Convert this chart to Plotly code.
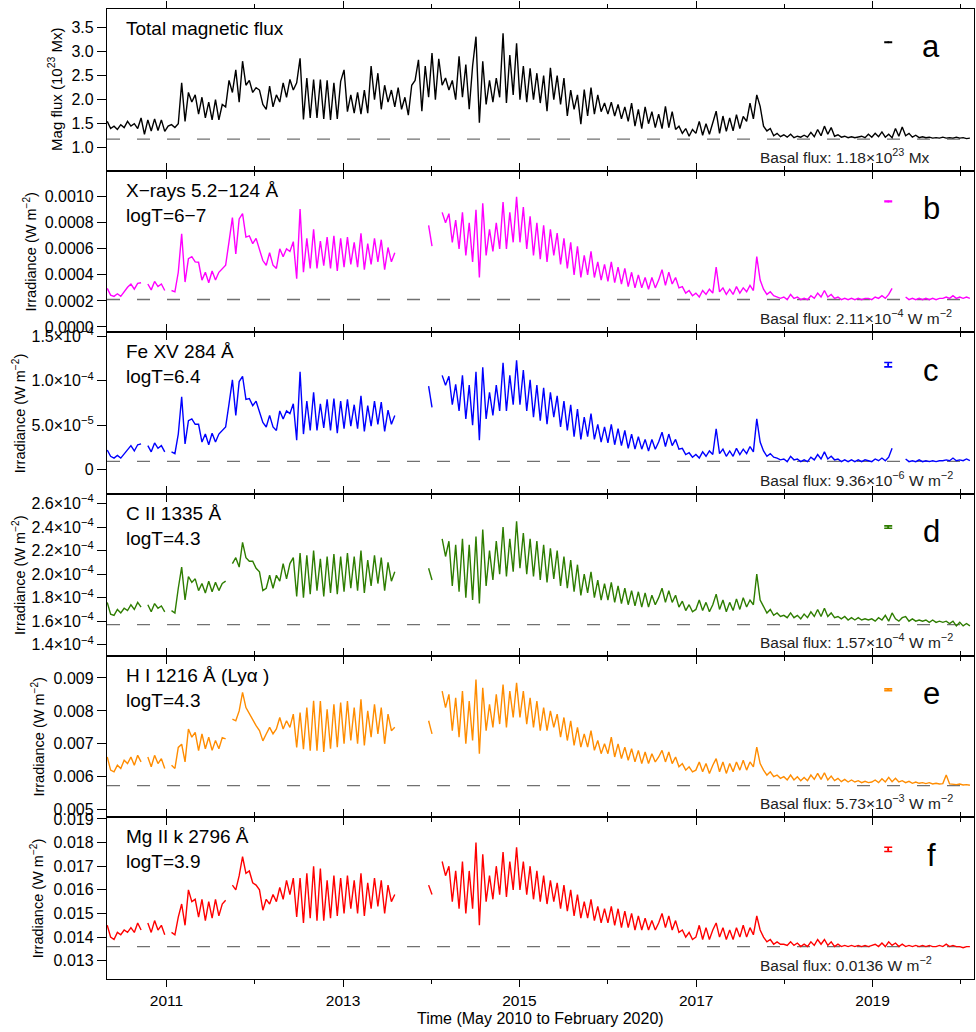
import pandas as pd
import plotly.graph_objects as go
from plotly.subplots import make_subplots

# ---------------- data (14-day samples starting 2010-05-01) ----------------
START = "2010-05-01"
STEP = "14D"

# Total magnetic flux, 10^23 Mx
mag_flux = [
    1.55, 1.40, 1.45, 1.38, 1.48, 1.42, 1.55, 1.45, 1.50, 1.40, 1.62, 1.28, 1.58, 1.35, 1.60, 1.36, 1.58, 1.34,
    1.45, 1.48, 1.42, 1.50, 2.35, 1.55, 2.15, 1.95, 2.10, 1.70, 2.05, 1.62, 1.95, 1.58, 2.00, 1.58, 1.90, 1.85, 2.40, 2.15, 2.62, 1.95, 2.80, 2.30, 2.40, 2.15,
    2.25, 2.20, 1.90, 1.80, 2.28, 1.85, 2.10, 1.95, 2.35, 2.05, 2.42, 2.20, 2.35, 2.86, 1.59, 2.45, 1.62, 2.42, 1.62, 2.42, 1.60, 2.40, 1.58, 2.35, 1.60, 2.38,
    2.62, 1.75, 2.10, 1.72, 2.15, 1.70, 2.20, 1.72, 2.70, 2.00, 2.55, 1.80, 2.30, 1.95, 2.20, 1.85, 2.25, 1.80, 2.05, 1.68, 2.30, 2.40, 2.83, 1.76, 2.70, 2.05,
    2.97, 2.00, 2.85, 2.30, 2.45, 2.20, 2.40, 2.00, 2.90, 2.05, 2.73, 1.80, 2.70, 3.31, 1.52, 2.80, 1.90, 2.40, 1.95, 2.45, 2.05, 3.38, 1.93, 2.93, 2.10, 3.17,
    2.00, 2.70, 1.95, 2.65, 2.00, 2.55, 1.93, 2.50, 1.76, 2.66, 2.00, 2.50, 1.90, 2.45, 1.66, 2.20, 1.80, 2.10, 1.49, 2.21, 1.66, 2.25, 1.70, 2.10, 1.75, 1.93,
    1.70, 1.95, 1.66, 1.90, 1.60, 1.85, 1.55, 1.93, 1.45, 1.80, 1.40, 1.85, 1.50, 1.75, 1.42, 1.70, 1.40, 1.86, 1.42, 1.75, 1.38, 1.45, 1.30, 1.40, 1.24, 1.38,
    1.30, 1.55, 1.26, 1.50, 1.28, 1.55, 1.76, 1.30, 1.66, 1.34, 1.62, 1.35, 1.69, 1.40, 1.65, 1.55, 1.93, 1.60, 2.10, 1.86, 1.45, 1.35, 1.40, 1.25, 1.30, 1.23,
    1.27, 1.22, 1.28, 1.21, 1.24, 1.22, 1.26, 1.22, 1.32, 1.23, 1.38, 1.25, 1.45, 1.28, 1.42, 1.24, 1.27, 1.22, 1.24, 1.21, 1.23, 1.21, 1.22, 1.24, 1.21, 1.28,
    1.22, 1.30, 1.23, 1.33, 1.22, 1.28, 1.21, 1.40, 1.24, 1.43, 1.25, 1.30, 1.22, 1.26, 1.21, 1.23, 1.21, 1.22, 1.20, 1.21, 1.20, 1.22, 1.20, 1.21, 1.20, 1.22, 1.20, 1.21, 1.19, 1.20,
]

# X-rays 5.2-124 A, units of 1e-4 W m^-2
xray_e4 = [
    2.96, 2.45, 2.35, 2.55, 2.35, 2.70, 3.05, 3.30, 2.90, 3.35, 3.40, None, 3.30, 2.85, 3.50, 3.10, 3.30, 2.80,
    None, 2.80, 2.70, 4.20, 7.15, 3.45, 5.25, 5.40, 5.00, 4.97, 3.60, 4.20, 3.40, 4.30, 3.60, 4.20, 4.50, 4.75, 6.55, 8.40, 5.60, 8.30, 8.70, 6.90, 7.00, 6.40,
    6.80, 6.00, 5.10, 4.74, 5.70, 4.74, 4.50, 6.00, 5.40, 6.00, 5.80, 6.55, 3.70, 9.06, 4.20, 6.80, 4.50, 7.50, 4.50, 6.60, 4.70, 6.90, 4.50, 7.00, 4.30, 6.80,
    4.60, 6.90, 4.80, 6.50, 4.60, 7.20, 4.40, 6.40, 4.80, 6.80, 5.00, 6.70, 4.40, 6.10, 5.00, 5.70, None, None, None, None, None, None, None, None, None, 7.80,
    6.20, None, None, 8.80, 8.00, 8.70, 6.50, 8.20, 6.00, 8.80, 5.50, 8.00, 5.00, 9.00, 3.80, 9.50, 5.50, 7.50, 5.80, 8.00, 6.00, 9.60, 6.00, 8.80, 6.50, 10.00,
    6.50, 9.20, 6.00, 8.50, 5.50, 8.00, 5.20, 7.80, 5.00, 7.50, 5.50, 7.20, 4.80, 6.80, 4.50, 6.50, 4.00, 6.20, 3.80, 5.50, 4.00, 5.80, 3.80, 5.00, 3.60, 4.80,
    3.50, 5.00, 3.40, 4.60, 3.30, 4.50, 3.10, 4.20, 3.00, 4.00, 3.00, 3.80, 2.90, 3.80, 3.00, 3.60, 4.40, 3.20, 4.20, 3.30, 3.80, 3.00, 3.10, 2.60, 2.80, 2.40,
    2.60, 2.30, 2.80, 2.50, 2.90, 2.60, 4.60, 2.70, 3.00, 2.50, 2.90, 2.50, 3.10, 2.60, 3.00, 2.70, 3.20, 2.80, 5.40, 3.60, 2.90, 2.50, 2.70, 2.40, 2.30, 2.20,
    2.30, 2.10, 2.50, 2.20, 2.30, 2.10, 2.20, 2.10, 2.40, 2.20, 2.60, 2.30, 2.80, 2.30, 2.50, 2.20, 2.30, 2.10, 2.20, 2.10, 2.20, 2.10, 2.20, 2.10, 2.20, 2.20,
    2.10, 2.30, 2.20, 2.40, 2.20, 2.50, 2.96, None, None, None, 2.30, 2.10, 2.20, 2.10, 2.20, 2.10, 2.20, 2.10, 2.20, 2.10, 2.20, 2.20, 2.30, 2.20, 2.40, 2.20, 2.30, 2.20, 2.30, 2.20,
]

# Fe XV 284 A, units of 1e-5 W m^-2
fexv_e5 = [
    2.2, 1.5, 1.3, 1.6, 1.3, 1.8, 2.3, 2.7, 2.1, 2.8, 2.9, None, 2.7, 2.0, 3.0, 2.4, 2.7, 2.0,
    None, 2.0, 1.8, 4.0, 8.2, 2.9, 5.5, 5.7, 5.1, 5.1, 3.1, 4.0, 2.8, 4.1, 3.1, 4.0, 4.4, 4.8, 7.4, 10.1, 6.1, 9.9, 10.5, 7.9, 8.0, 7.2,
    7.7, 6.6, 5.3, 4.8, 6.1, 4.8, 4.4, 6.6, 5.7, 6.6, 6.3, 7.4, 3.3, 11.0, 4.0, 7.7, 4.4, 8.7, 4.4, 7.4, 4.7, 7.9, 4.4, 8.0, 4.1, 7.7,
    4.6, 7.9, 4.9, 7.3, 4.6, 8.3, 4.3, 7.2, 4.9, 7.7, 5.1, 7.6, 4.3, 6.7, 5.1, 6.1, None, None, None, None, None, None, None, None, None, 9.4,
    7.0, None, None, 10.6, 9.5, 10.5, 7.3, 9.6, 6.6, 10.6, 5.7, 9.5, 5.0, 11.0, 3.3, 11.5, 5.7, 8.7, 6.1, 9.5, 6.6, 12.0, 6.6, 10.6, 7.3, 12.3,
    7.3, 11.2, 6.6, 10.1, 5.9, 9.5, 5.5, 9.2, 5.1, 8.7, 5.9, 8.3, 4.8, 7.7, 4.4, 7.3, 3.7, 6.8, 3.4, 5.9, 3.7, 6.3, 3.4, 5.1, 3.1, 4.8,
    3.0, 5.1, 2.8, 4.6, 2.7, 4.4, 2.4, 4.0, 2.3, 3.7, 2.3, 3.4, 2.1, 3.4, 2.3, 3.1, 4.2, 2.6, 4.0, 2.7, 3.4, 2.3, 2.4, 1.7, 1.9, 1.4,
    1.7, 1.3, 2.0, 1.5, 2.1, 1.7, 4.6, 1.8, 2.3, 1.5, 2.1, 1.5, 2.4, 1.7, 2.3, 1.8, 2.6, 2.0, 5.7, 3.1, 2.1, 1.5, 1.8, 1.4, 1.3, 1.1,
    1.2, 0.9, 1.5, 1.1, 1.2, 0.9, 1.1, 0.9, 1.4, 1.1, 1.7, 1.2, 2.0, 1.2, 1.5, 1.1, 1.2, 0.9, 1.1, 0.9, 1.1, 0.9, 1.1, 0.9, 1.1, 1.0,
    0.9, 1.2, 1.0, 1.3, 1.0, 1.4, 2.4, None, None, None, 1.2, 0.9, 1.0, 0.9, 1.1, 0.9, 1.0, 0.9, 1.0, 0.9, 1.0, 1.0, 1.1, 1.0, 1.3, 1.0, 1.1, 1.0, 1.2, 1.0,
]

# C II 1335 A, units of 1e-4 W m^-2
cii_e4 = [
    1.76, 1.66, 1.65, 1.70, 1.67, 1.71, 1.69, 1.74, 1.70, 1.76, 1.72, None, 1.74, 1.68, 1.75, 1.71, 1.73, 1.68,
    None, 1.69, 1.67, 1.88, 2.06, 1.78, 1.98, 1.93, 1.96, 1.86, 1.92, 1.84, 1.94, 1.85, 1.93, 1.86, 1.92, 1.94, None, 2.09, 2.14, 2.06, 2.27, 2.14, 2.11, 2.11,
    2.05, 2.02, 1.86, 1.88, 1.99, 1.88, 1.99, 1.94, 2.09, 1.96, 2.09, 2.14, 1.81, 2.18, 1.80, 2.16, 1.83, 2.20, 1.86, 2.13, 1.81, 2.15, 1.84, 2.17, 1.83, 2.15,
    1.85, 2.18, 1.88, 2.15, 1.86, 2.20, 1.84, 2.12, 1.90, 2.16, 1.92, 2.14, 1.86, 2.10, 1.94, 2.02, None, None, None, None, None, None, None, None, None, 2.05,
    1.95, None, None, 2.30, 2.15, 2.28, 1.90, 2.25, 1.85, 2.30, 1.80, 2.25, 1.78, 2.32, 1.75, 2.38, 1.90, 2.20, 1.95, 2.28, 2.00, 2.40, 1.98, 2.30, 2.02, 2.45,
    2.05, 2.35, 2.00, 2.30, 1.98, 2.28, 1.95, 2.25, 1.93, 2.22, 1.96, 2.20, 1.90, 2.15, 1.88, 2.12, 1.85, 2.08, 1.82, 2.00, 1.84, 2.02, 1.80, 1.95, 1.78, 1.92,
    1.78, 1.93, 1.76, 1.90, 1.75, 1.88, 1.74, 1.86, 1.73, 1.85, 1.72, 1.84, 1.72, 1.82, 1.74, 1.80, 1.88, 1.76, 1.86, 1.76, 1.82, 1.72, 1.77, 1.69, 1.74, 1.68,
    1.70, 1.78, 1.69, 1.76, 1.68, 1.74, 1.83, 1.70, 1.78, 1.68, 1.76, 1.69, 1.79, 1.70, 1.80, 1.72, 1.78, 1.74, 2.00, 1.78, 1.72, 1.67, 1.70, 1.65, 1.67, 1.64,
    1.65, 1.63, 1.67, 1.63, 1.65, 1.62, 1.66, 1.63, 1.68, 1.64, 1.70, 1.64, 1.71, 1.64, 1.67, 1.63, 1.64, 1.62, 1.64, 1.61, 1.63, 1.61, 1.63, 1.61, 1.62, 1.61,
    1.62, 1.60, 1.63, 1.61, 1.65, 1.60, 1.67, 1.62, 1.60, 1.63, 1.64, 1.60, 1.62, 1.60, 1.61, 1.60, 1.61, 1.59, 1.61, 1.59, 1.60, 1.59, 1.60, 1.58, 1.60, 1.56, 1.59, 1.56, 1.58, 1.56,
]

# H I 1216 A (Ly-alpha), units of 1e-3 W m^-2
lya_e3 = [
    6.60, 6.20, 6.15, 6.35, 6.25, 6.50, 6.40, 6.60, 6.35, 6.65, 6.45, None, 6.60, 6.30, 6.65, 6.40, 6.55, 6.25,
    None, 6.35, 6.25, 6.89, 6.99, 6.45, 7.45, 7.20, 7.35, 6.79, 7.30, 6.85, 7.20, 6.80, 7.10, 6.85, 7.19, 7.15, None, 7.75, 7.70, 8.00, 8.56, 8.10, 7.90, 7.75,
    7.55, 7.40, 7.09, 7.30, 7.50, 7.30, 7.45, 7.80, 7.45, 7.70, 7.50, 7.90, 6.89, 7.95, 6.84, 8.10, 6.79, 8.31, 6.79, 8.30, 6.75, 8.05, 6.85, 8.20, 6.90, 8.25,
    7.00, 8.30, 7.10, 8.10, 7.00, 8.35, 6.95, 8.00, 7.20, 8.20, 7.30, 8.10, 7.00, 7.90, 7.40, 7.50, None, None, None, None, None, None, None, None, None, 7.70,
    7.30, None, None, 8.60, 8.10, 8.50, 7.40, 8.40, 7.20, 8.60, 7.00, 8.30, 7.10, 8.95, 6.70, 8.70, 7.40, 8.20, 7.50, 8.50, 7.60, 8.80, 7.50, 8.60, 7.80, 8.85,
    7.80, 8.60, 7.60, 8.40, 7.50, 8.30, 7.40, 8.10, 7.40, 8.00, 7.50, 7.90, 7.20, 7.80, 7.10, 7.70, 6.95, 7.50, 6.90, 7.30, 6.90, 7.40, 6.80, 7.10, 6.70, 7.00,
    6.70, 7.20, 6.60, 7.00, 6.55, 6.90, 6.50, 6.85, 6.45, 6.80, 6.40, 6.75, 6.40, 6.70, 6.45, 6.60, 6.80, 6.45, 6.75, 6.40, 6.60, 6.30, 6.40, 6.20, 6.30, 6.15,
    6.20, 6.45, 6.15, 6.40, 6.10, 6.35, 6.55, 6.15, 6.45, 6.10, 6.40, 6.15, 6.45, 6.20, 6.50, 6.20, 6.45, 6.30, 6.90, 6.40, 6.20, 6.05, 6.15, 6.00, 6.05, 5.95,
    6.00, 5.90, 6.05, 5.90, 6.00, 5.88, 5.98, 5.88, 6.05, 5.92, 6.10, 5.92, 6.12, 5.90, 6.02, 5.88, 5.95, 5.85, 5.92, 5.84, 5.90, 5.84, 5.88, 5.82, 5.86, 5.82,
    5.84, 5.90, 5.82, 5.94, 5.84, 5.98, 5.85, 5.95, 5.84, 5.88, 5.82, 5.86, 5.80, 5.84, 5.80, 5.82, 5.79, 5.82, 5.78, 5.80, 5.78, 5.79, 6.05, 5.78, 5.77, 5.76, 5.78, 5.75, 5.76, 5.74,
]

# Mg II k 2796 A, units of 1e-2 W m^-2
mgii_e2 = [
    1.45, 1.40, 1.39, 1.42, 1.41, 1.43, 1.42, 1.44, 1.42, 1.46, 1.43, None, 1.46, 1.42, 1.47, 1.43, 1.45, 1.41,
    None, 1.42, 1.41, 1.485, 1.54, 1.45, 1.60, 1.55, 1.56, 1.485, 1.56, 1.47, 1.55, 1.48, 1.56, 1.49, 1.54, 1.556, None, 1.62, 1.60, 1.66, 1.74, 1.67, 1.68, 1.63,
    1.62, 1.60, 1.514, 1.56, 1.54, 1.58, 1.55, 1.61, 1.56, 1.64, 1.58, 1.65, 1.485, 1.65, 1.46, 1.67, 1.48, 1.70, 1.47, 1.69, 1.47, 1.64, 1.48, 1.66, 1.49, 1.65,
    1.50, 1.66, 1.52, 1.64, 1.50, 1.67, 1.49, 1.63, 1.52, 1.65, 1.53, 1.64, 1.50, 1.62, 1.55, 1.58, None, None, None, None, None, None, None, None, None, 1.62,
    1.58, None, None, 1.72, 1.66, 1.70, 1.55, 1.68, 1.52, 1.72, 1.50, 1.68, 1.52, 1.80, 1.45, 1.75, 1.55, 1.66, 1.56, 1.70, 1.58, 1.76, 1.57, 1.72, 1.60, 1.78,
    1.60, 1.72, 1.58, 1.70, 1.56, 1.68, 1.55, 1.66, 1.54, 1.64, 1.55, 1.63, 1.52, 1.62, 1.51, 1.60, 1.49, 1.58, 1.48, 1.55, 1.48, 1.56, 1.47, 1.53, 1.46, 1.52,
    1.46, 1.53, 1.45, 1.52, 1.44, 1.51, 1.44, 1.50, 1.43, 1.49, 1.43, 1.48, 1.43, 1.47, 1.43, 1.46, 1.50, 1.44, 1.49, 1.43, 1.47, 1.42, 1.43, 1.40, 1.42, 1.39,
    1.40, 1.45, 1.39, 1.44, 1.39, 1.43, 1.46, 1.40, 1.44, 1.39, 1.43, 1.39, 1.44, 1.40, 1.45, 1.40, 1.44, 1.41, 1.49, 1.43, 1.40, 1.38, 1.39, 1.37, 1.38, 1.37,
    1.37, 1.365, 1.38, 1.365, 1.375, 1.36, 1.37, 1.36, 1.38, 1.365, 1.39, 1.37, 1.39, 1.365, 1.38, 1.36, 1.37, 1.36, 1.365, 1.36, 1.365, 1.36, 1.365, 1.36, 1.365, 1.36,
    1.365, 1.37, 1.36, 1.375, 1.36, 1.38, 1.365, 1.375, 1.36, 1.37, 1.36, 1.365, 1.36, 1.365, 1.36, 1.365, 1.36, 1.365, 1.36, 1.36, 1.365, 1.36, 1.37, 1.36, 1.365, 1.36, 1.36, 1.355, 1.36, 1.36,
]

unit_scale = [1.0, 1e-4, 1e-5, 1e-4, 1e-3, 1e-2]
basal = [1.18, 2.11e-4, 9.36e-6, 1.57e-4, 5.73e-3, 0.0136]
basal_text = [
    "Basal flux: 1.18×10<sup>23</sup> Mx",
    "Basal flux: 2.11×10<sup>−4</sup> W m<sup>−2</sup>",
    "Basal flux: 9.36×10<sup>−6</sup> W m<sup>−2</sup>",
    "Basal flux: 1.57×10<sup>−4</sup> W m<sup>−2</sup>",
    "Basal flux: 5.73×10<sup>−3</sup> W m<sup>−2</sup>",
    "Basal flux: 0.0136 W m<sup>−2</sup>",
]
titles = [
    "Total magnetic flux",
    "X−rays 5.2−124 Å<br>logT=6−7",
    "Fe XV 284 Å<br>logT=6.4",
    "C II 1335 Å<br>logT=4.3",
    "H I 1216 Å (Lyα )<br>logT=4.3",
    "Mg II k 2796 Å<br>logT=3.9",
]
letters = ["a", "b", "c", "d", "e", "f"]
colors = ["#000000", "#FF00FF", "#0000FF", "#2E7D00", "#FF8C00", "#FF0000"]
ytitles = ["Mag flux (10<sup>23</sup> Mx)"] + ["Irradiance (W m<sup>−2</sup>)"] * 5
ytitle_size = [15, 14.5, 14.5, 14.5, 14.5, 14.5]

# typical uncertainty glyphs (date, value, half-size)
err_date = "2019-03-07"
err_y = [3.196, 9.64e-4, 11.8e-5, 2.40e-4, 8.64e-3, 1.771e-2]
err_size = [0.004, 2e-6, 2.5e-6, 1e-6, 3e-5, 9e-5]

y_ranges = [
    [0.524, 3.885],
    [-0.000041, 0.0012],
    [-2.74e-5, 1.544e-4],
    [1.307e-4, 2.681e-4],
    [0.004766, 0.009678],
    [0.012229, 0.019067],
]
y_tickvals = [
    [1.0, 1.5, 2.0, 2.5, 3.0, 3.5],
    [0.0, 0.0002, 0.0004, 0.0006, 0.0008, 0.0010],
    [0.0, 5e-5, 1e-4, 1.5e-4],
    [1.4e-4, 1.6e-4, 1.8e-4, 2.0e-4, 2.2e-4, 2.4e-4, 2.6e-4],
    [0.005, 0.006, 0.007, 0.008, 0.009],
    [0.013, 0.014, 0.015, 0.016, 0.017, 0.018, 0.019],
]
y_ticktext = [
    ["1.0", "1.5", "2.0", "2.5", "3.0", "3.5"],
    ["0.0000", "0.0002", "0.0004", "0.0006", "0.0008", "0.0010"],
    ["0", "5.0×10<sup>−5</sup>", "1.0×10<sup>−4</sup>", "1.5×10<sup>−4</sup>"],
    ["1.4×10<sup>−4</sup>", "1.6×10<sup>−4</sup>", "1.8×10<sup>−4</sup>", "2.0×10<sup>−4</sup>",
     "2.2×10<sup>−4</sup>", "2.4×10<sup>−4</sup>", "2.6×10<sup>−4</sup>"],
    ["0.005", "0.006", "0.007", "0.008", "0.009"],
    ["0.013", "0.014", "0.015", "0.016", "0.017", "0.018", "0.019"],
]
x_major = ["2011-01-01", "2013-01-01", "2015-01-01", "2017-01-01", "2019-01-01"]
x_major_text = ["2011", "2013", "2015", "2017", "2019"]
x_minor = ["2012-01-01", "2014-01-01", "2016-01-01", "2018-01-01", "2020-01-01"]
x_range = ["2010-04-30", "2020-02-25"]
ytitle_px = [55, 29, 19, 19, 37, 37]

series = [mag_flux, xray_e4, fexv_e5, cii_e4, lya_e3, mgii_e2]

# ---------------- figure ----------------
W, H = 976, 1032
ML, MR, MT, MB = 107, 1, 5, 53
PW, PH = W - ML - MR, H - MT - MB
FONT = "Liberation Sans, Arial, Helvetica, sans-serif"


def fx(px):
    return (px - ML) / PW


def fy(py):
    return (H - MB - py) / PH


fig = make_subplots(rows=6, cols=1, shared_xaxes=True, vertical_spacing=0)

panel_h = PH / 6.0
for k in range(6):
    r = k + 1
    vals = [None if v is None else v * unit_scale[k] for v in series[k]]
    dates = pd.date_range(START, periods=len(vals), freq=STEP)
    fig.add_trace(go.Scatter(x=dates, y=vals, mode="lines",
                             line=dict(color=colors[k], width=1.4),
                             connectgaps=False, showlegend=False, hoverinfo="skip"),
                  row=r, col=1)
    fig.add_trace(go.Scatter(x=[pd.Timestamp(err_date)], y=[err_y[k]], mode="markers",
                             marker=dict(size=2, color=colors[k]),
                             error_y=dict(type="constant", value=err_size[k], color=colors[k],
                                          thickness=1.6, width=4),
                             showlegend=False, hoverinfo="skip"),
                  row=r, col=1)
    xs = "x" if r == 1 else f"x{r}"
    ys = "y" if r == 1 else f"y{r}"
    fig.add_shape(type="line", xref=f"{xs} domain", yref=ys, x0=0, x1=1,
                  y0=basal[k], y1=basal[k],
                  line=dict(color="#707070", width=1.3, dash="13px,17px"), layer="below")

    top_px = MT + k * panel_h
    bot_px = top_px + panel_h
    fig.add_annotation(xref="paper", yref="paper", x=fx(124), y=fy(top_px + 7),
                       xanchor="left", yanchor="top", align="left", showarrow=False,
                       text=titles[k], font=dict(family=FONT, size=19, color="black"))
    fig.add_annotation(xref="paper", yref="paper", x=fx(932), y=fy(top_px + 38),
                       xanchor="center", yanchor="middle", showarrow=False,
                       text=letters[k], font=dict(family=FONT, size=31, color="black"))
    fig.add_annotation(xref="paper", yref="paper", x=fx(759), y=fy(bot_px - 15),
                       xanchor="left", yanchor="middle", showarrow=False,
                       text=basal_text[k], font=dict(family=FONT, size=15.5, color="#222222"))
    fig.add_annotation(xref="paper", yref="paper", x=fx(ytitle_px[k]), y=fy((top_px + bot_px) / 2),
                       xanchor="center", yanchor="middle", showarrow=False, textangle=-90,
                       text=ytitles[k], font=dict(family=FONT, size=ytitle_size[k], color="black"))

    fig.update_yaxes(row=r, col=1, range=y_ranges[k], tickvals=y_tickvals[k], ticktext=y_ticktext[k],
                     showline=True, linecolor="black", linewidth=1.3, mirror=True,
                     ticks="outside", ticklen=9, tickwidth=1.3, tickcolor="black",
                     showgrid=False, zeroline=False,
                     tickfont=dict(family=FONT, size=16, color="black"))
    fig.update_xaxes(row=r, col=1, type="date", range=x_range,
                     tickvals=x_major, ticktext=x_major_text,
                     showline=True, linecolor="black", linewidth=1.3, mirror="ticks",
                     ticks="outside", ticklen=7, tickwidth=1.3, tickcolor="black",
                     minor=dict(tickvals=x_minor, ticks="outside", ticklen=4, tickwidth=1.3,
                                tickcolor="black", showgrid=False),
                     showgrid=False, zeroline=False,
                     tickfont=dict(family=FONT, size=15.5, color="black"))

fig.add_annotation(xref="paper", yref="paper", x=0.5, y=fy(1019), xanchor="center", yanchor="middle",
                   showarrow=False, text="Time (May 2010 to February 2020)",
                   font=dict(family=FONT, size=16, color="black"))

fig.update_layout(width=W, height=H, margin=dict(l=ML, r=MR, t=MT, b=MB),
                  paper_bgcolor="white", plot_bgcolor="white",
                  font=dict(family=FONT, color="black"))

fig.write_html("out.html",
               config={"displayModeBar": False},
               post_script="document.body.style.margin='0px';document.body.style.padding='0px';"
                           "document.documentElement.style.overflow='hidden';")
